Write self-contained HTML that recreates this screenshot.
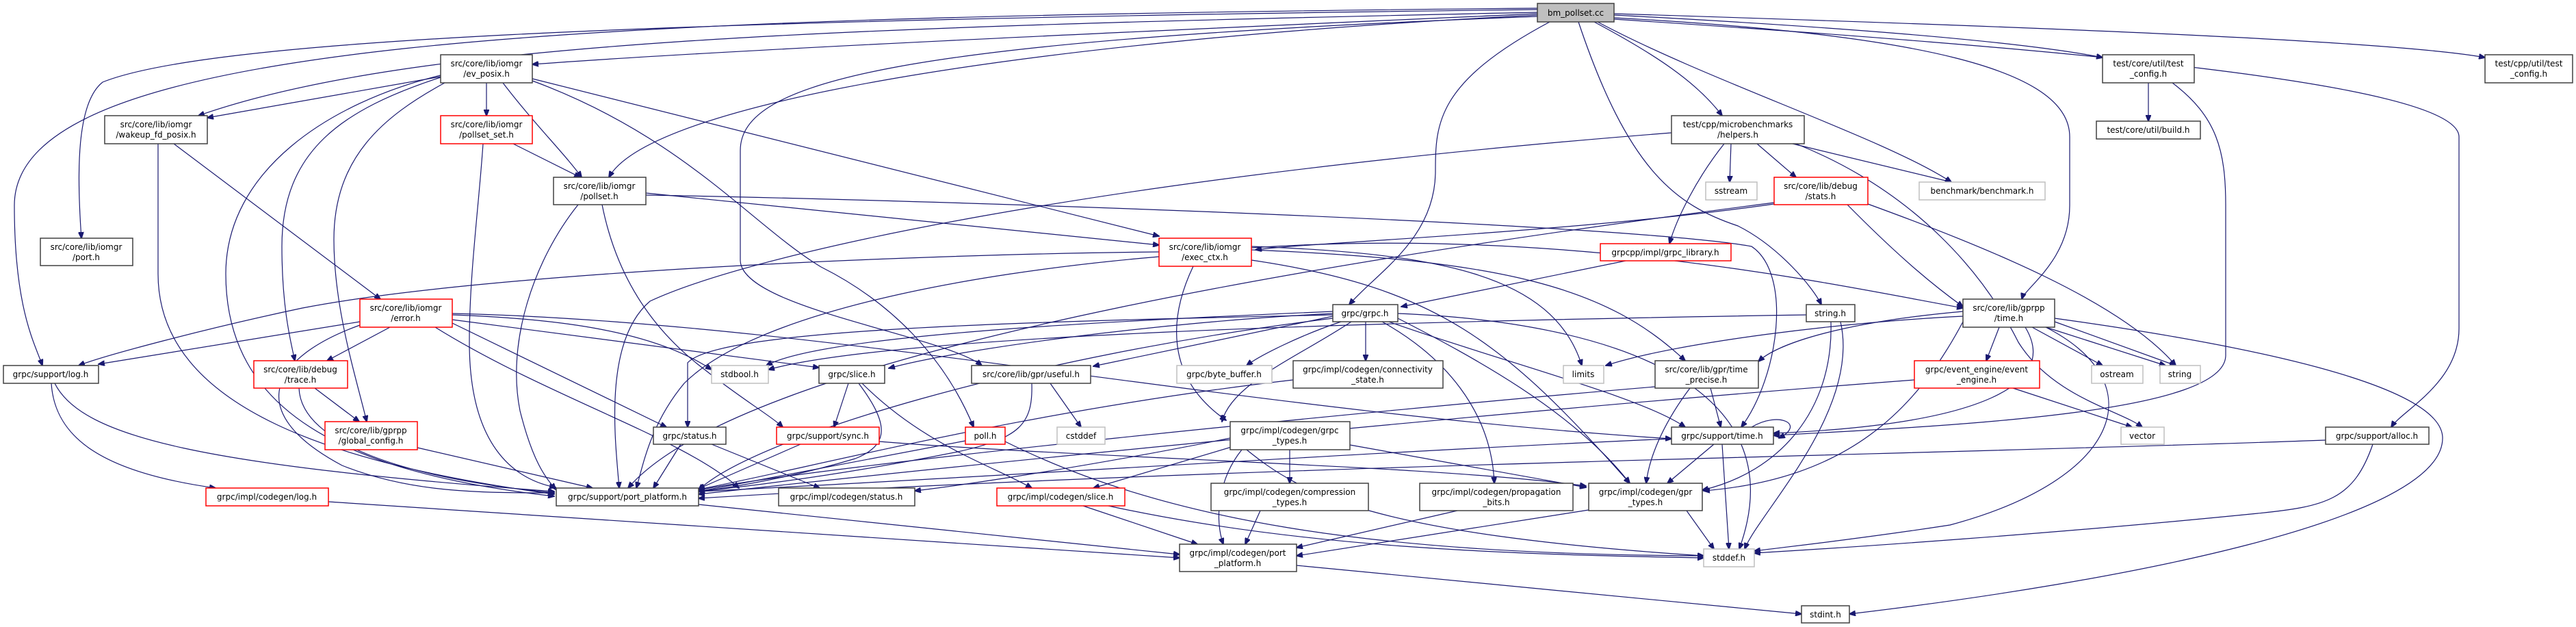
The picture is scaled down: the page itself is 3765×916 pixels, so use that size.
<!DOCTYPE html>
<html><head><meta charset="utf-8"><style>
html,body{margin:0;padding:0;background:#fff;}
svg{display:block;}
text{font-family:"DejaVu Sans","Liberation Sans",sans-serif;font-size:12px;fill:#000;text-anchor:middle;}
.e{fill:none;stroke:#191970;stroke-width:1.2;marker-end:url(#a);}
.n{fill:#fff;stroke:#404040;stroke-width:1.5;}
.r{fill:#fff;stroke:#ff0000;stroke-width:1.5;}
.g{fill:#fff;stroke:#bfbfbf;stroke-width:1.5;}
</style></head><body>
<svg width="3765" height="916" viewBox="0 0 3765 916" xmlns="http://www.w3.org/2000/svg">
<defs><marker id="a" markerWidth="10" markerHeight="8" refX="9" refY="4" orient="auto" markerUnits="userSpaceOnUse"><path d="M0,0 L10,4 L0,8 z" fill="#191970" stroke="#191970"/></marker></defs>
<g>
<!-- bm_pollset edges -->
<path class="e" d="M2247,20 C1800,40 1100,70 778,94"/>
<path class="e" d="M2247,18 C1200,40 600,60 290,169"/>
<path class="e" d="M2247,14 C900,30 300,60 150,120 C112,150 112,250 119,348"/>
<path class="e" d="M2247,12 C800,25 21,60 21,300 C21,450 50,500 62,534"/>
<path class="e" d="M2247,22 C1500,60 950,150 890,259"/>
<path class="e" d="M2247,24 C1300,60 1082,120 1082,220 L1082,380 C1082,450 1380,490 1435,534"/>
<path class="e" d="M2265,32 C2100,120 2098,180 2098,250 C2098,350 2010,400 1972,445"/>
<path class="e" d="M2307,32 C2380,250 2450,300 2540,330 C2600,360 2650,420 2662,445"/>
<path class="e" d="M2330,32 C2420,80 2480,120 2517,169"/>
<path class="e" d="M2335,32 C2500,120 2750,200 2852,266"/>
<path class="e" d="M2359,22 C2700,40 2950,60 3073,84"/>
<path class="e" d="M2359,20 C3000,40 3500,60 3632,84"/>
<path class="e" d="M2359,26 C2800,50 3025,100 3025,200 L3025,300 C3025,380 2960,420 2955,437"/>
<path class="e" d="M2359,28 C3000,70 3594,120 3594,200 L3594,480 C3594,560 3510,600 3495,624"/>
<!-- ev_posix -->
<path class="e" d="M644,112 L303,172"/>
<path class="e" d="M711,121 L711,169"/>
<path class="e" d="M735,121 C780,180 830,230 850,259"/>
<path class="e" d="M778,115 L1694,345"/>
<path class="e" d="M644,113 C500,160 412,220 412,360 C412,450 425,500 431,527"/>
<path class="e" d="M650,121 C560,170 488,230 488,350 C488,450 520,550 536,616"/>
<path class="e" d="M644,110 C480,150 330,250 330,400 C330,600 500,690 810,725"/>
<path class="e" d="M778,118 C1000,200 1100,330 1200,390 C1300,440 1380,520 1423,624"/>
<!-- wakeup -->
<path class="e" d="M231,210 L231,400 C231,600 500,680 810,722"/>
<path class="e" d="M254,210 L556,437"/>
<!-- pollset_set -->
<path class="e" d="M750,210 L848,259"/>
<path class="e" d="M706,210 C700,300 686,400 686,500 C686,650 750,700 812,712"/>
<!-- pollset -->
<path class="e" d="M944,282 L1694,358"/>
<path class="e" d="M845,299 C780,380 740,500 760,600 C780,680 800,700 812,715"/>
<path class="e" d="M880,299 C900,400 950,480 1030,540 C1080,580 1130,610 1144,624"/>
<path class="e" d="M944,285 C1500,295 2400,330 2560,360 C2620,400 2600,550 2545,624"/>
<!-- exec_ctx -->
<path class="e" d="M1694,368 C1300,372 700,400 442,450 C300,480 150,520 115,534"/>
<path class="e" d="M1694,375 C1400,400 1100,460 1000,560 C950,620 940,680 930,713"/>
<path class="e" d="M1744,389 C1710,460 1700,550 1792,614"/>
<path class="e" d="M1829,360 C2100,370 2270,400 2312,534"/>
<path class="e" d="M1829,365 C2200,380 2350,420 2463,527"/>
<path class="e" d="M1829,362 C2300,330 2700,420 2869,450"/>
<path class="e" d="M1829,380 C2100,420 2200,500 2382,706"/>
<!-- grpc.h -->
<path class="e" d="M1948,455 C1600,470 1200,490 1120,534"/>
<path class="e" d="M1948,458 C1700,470 1400,510 1299,538"/>
<path class="e" d="M1948,462 L1598,535"/>
<path class="e" d="M1960,470 C1900,490 1840,520 1822,534"/>
<path class="e" d="M1996,470 L1996,527"/>
<path class="e" d="M1948,460 C1500,470 1050,480 1005,530 L1005,624"/>
<path class="e" d="M1948,465 C1500,520 1100,640 1021,716"/>
<path class="e" d="M1975,470 C1900,520 1800,560 1786,616"/>
<path class="e" d="M2020,470 C2110,520 2180,600 2184,706"/>
<path class="e" d="M2043,465 C2150,520 2300,600 2382,706"/>
<path class="e" d="M2030,470 C2200,530 2400,580 2463,624"/>
<path class="e" d="M2043,458 C2350,470 2630,560 2542,802"/>
<!-- string.h -->
<path class="e" d="M2690,470 C2720,600 2570,750 2550,802"/>
<path class="e" d="M2676,470 C2680,600 2600,690 2488,716"/>
<path class="e" d="M2640,460 C2000,470 1300,490 1123,540"/>
<!-- helpers -->
<path class="e" d="M2530,210 L2528,266"/>
<path class="e" d="M2568,210 L2625,259"/>
<path class="e" d="M2620,210 L2852,266"/>
<path class="e" d="M2520,210 C2480,260 2450,320 2440,356"/>
<path class="e" d="M2443,194 C1600,260 1100,370 950,440 C880,500 900,650 905,713"/>
<path class="e" d="M2625,210 C2800,280 2900,400 2950,500 C3000,580 3100,600 3131,624"/>
<!-- stats -->
<path class="e" d="M2593,298 C2300,340 1900,355 1835,365"/>
<path class="e" d="M2593,296 C2100,360 1100,500 918,713"/>
<path class="e" d="M2700,299 C2780,380 2830,420 2869,448"/>
<path class="e" d="M2730,298 C2900,360 3100,440 3180,534"/>
<!-- grpc_library -->
<path class="e" d="M2376,381 L2048,448"/>
<!-- gprpp/time -->
<path class="e" d="M2922,478 L2903,527"/>
<path class="e" d="M2970,478 L3073,534"/>
<path class="e" d="M2990,478 L3165,534"/>
<path class="e" d="M3003,470 L3180,534"/>
<path class="e" d="M2869,455 C2700,470 2600,500 2570,528"/>
<path class="e" d="M2960,478 C3010,560 2900,620 2592,633"/>
<path class="e" d="M2869,470 C2800,600 2700,700 2490,717"/>
<path class="e" d="M3003,465 C3400,520 3570,580 3570,640 C3570,760 3100,850 2703,897"/>
<path class="e" d="M2869,462 C2700,470 2450,500 2347,534"/>
<path class="e" d="M2990,478 C3150,560 3100,700 2850,767 C2700,790 2600,800 2564,805"/>
<!-- test_config core -->
<path class="e" d="M3140,121 L3140,177"/>
<path class="e" d="M3175,121 C3240,170 3253,220 3253,300 L3253,520 C3250,600 2900,620 2592,636"/>
<!-- event_engine -->
<path class="e" d="M2942,567 L3116,624"/>
<path class="e" d="M2798,555 C2200,600 1400,680 1021,722"/>
<!-- alloc -->
<path class="e" d="M3399,643 C2800,665 1800,680 1021,728"/>
<path class="e" d="M3468,649 C3440,730 3400,740 3300,750 C3000,780 2700,800 2564,808"/>
<!-- support/time -->
<path class="e" d="M2560,624 C2600,600 2640,620 2600,640" />
<path class="e" d="M2505,649 L2437,706"/>
<path class="e" d="M2517,649 L2527,802"/>
<path class="e" d="M2443,641 C2000,660 1400,700 1021,718"/>
<!-- time_precise -->
<path class="e" d="M2500,567 L2515,624"/>
<path class="e" d="M2470,567 C2430,620 2410,670 2406,706"/>
<path class="e" d="M2419,565 C2000,600 1200,680 1021,716"/>
<!-- gpr_types -->
<path class="e" d="M2465,746 L2505,802"/>
<path class="e" d="M2322,745 L1895,812"/>
<path class="e" d="M2130,746 L1895,800"/>
<path class="e" d="M1890,555 C1500,600 1200,680 1021,715"/>
<!-- useful -->
<path class="e" d="M1535,560 L1580,624"/>
<path class="e" d="M1508,560 C1510,620 1490,640 1400,660 C1200,700 1050,715 1021,718"/>
<!-- slice -->
<path class="e" d="M1240,560 L1219,624"/>
<path class="e" d="M1260,560 C1350,650 1450,680 1508,713"/>
<path class="e" d="M1255,560 C1300,620 1300,650 1250,670 C1150,700 1050,715 1021,718"/>
<!-- sync -->
<path class="e" d="M1170,649 L1021,714"/>
<path class="e" d="M1285,645 C1600,670 2100,680 2318,710"/>
<!-- poll -->
<path class="e" d="M1411,644 L1021,718"/>
<path class="e" d="M1469,645 C1700,760 2000,810 2490,812"/>
<!-- status -->
<path class="e" d="M995,649 L955,713"/>
<path class="e" d="M1040,649 L1198,713"/>
<!-- log -->
<path class="e" d="M80,560 C120,640 300,680 810,718"/>
<path class="e" d="M75,560 C80,640 150,690 315,713"/>
<!-- trace, global -->
<path class="e" d="M460,567 L525,616"/>
<path class="e" d="M437,567 C440,650 600,700 810,720"/>
<path class="e" d="M610,654 L866,713"/>
<path class="e" d="M480,733 L1724,815"/>
<path class="e" d="M1021,737 L1724,810"/>
<!-- error -->
<path class="e" d="M526,470 L144,532"/>
<path class="e" d="M570,478 L478,527"/>
<path class="e" d="M526,475 C400,520 350,600 500,680 C600,720 700,720 810,720"/>
<path class="e" d="M661,460 C800,465 950,480 1040,540"/>
<path class="e" d="M661,467 L1197,537"/>
<path class="e" d="M661,472 L974,624"/>
<path class="e" d="M661,458 C1200,470 1800,600 2443,641"/>
<path class="e" d="M636,478 C800,580 1000,640 1080,713"/>
<!-- codegen grpc_types -->
<path class="e" d="M1885,657 L1885,706"/>
<path class="e" d="M1815,657 C1780,700 1775,760 1788,795"/>
<path class="e" d="M1810,650 L1598,713"/>
<path class="e" d="M1798,640 C1600,680 1400,710 1337,717"/>
<path class="e" d="M1973,650 L2318,712"/>
<path class="e" d="M1822,657 C1900,720 2000,780 2490,812"/>
<path class="e" d="M1842,746 L1820,795"/>
<path class="e" d="M1583,739 L1750,795"/>
<path class="e" d="M1620,739 C1900,800 2200,810 2490,815"/>
<path class="e" d="M1895,826 L2633,897"/>
</g>
<!-- nodes -->
<g>
<rect class="n" x="2247" y="5" width="112" height="27" style="fill:#bfbfbf"/><text x="2303" y="23">bm_pollset.cc</text>
<rect class="n" x="644" y="80" width="134" height="41"/><text x="711" y="97">src/core/lib/iomgr</text><text x="711" y="112">/ev_posix.h</text>
<rect class="n" x="153" y="169" width="150" height="41"/><text x="228" y="186">src/core/lib/iomgr</text><text x="228" y="201">/wakeup_fd_posix.h</text>
<rect class="r" x="644" y="169" width="134" height="41"/><text x="711" y="186">src/core/lib/iomgr</text><text x="711" y="201">/pollset_set.h</text>
<rect class="n" x="809" y="259" width="135" height="40"/><text x="876" y="276">src/core/lib/iomgr</text><text x="876" y="291">/pollset.h</text>
<rect class="n" x="59" y="348" width="135" height="40"/><text x="126" y="365">src/core/lib/iomgr</text><text x="126" y="380">/port.h</text>
<rect class="r" x="526" y="437" width="135" height="41"/><text x="593" y="454">src/core/lib/iomgr</text><text x="593" y="469">/error.h</text>
<rect class="n" x="5" y="534" width="139" height="26"/><text x="74" y="551">grpc/support/log.h</text>
<rect class="r" x="371" y="527" width="137" height="40"/><text x="439" y="544">src/core/lib/debug</text><text x="439" y="559">/trace.h</text>
<rect class="r" x="475" y="616" width="135" height="41"/><text x="542" y="633">src/core/lib/gprpp</text><text x="542" y="648">/global_config.h</text>
<rect class="r" x="301" y="713" width="179" height="26"/><text x="390" y="730">grpc/impl/codegen/log.h</text>
<rect class="n" x="813" y="713" width="208" height="26"/><text x="917" y="730">grpc/support/port_platform.h</text>
<rect class="r" x="1694" y="348" width="135" height="41"/><text x="1761" y="365">src/core/lib/iomgr</text><text x="1761" y="380">/exec_ctx.h</text>
<rect class="g" x="1040" y="534" width="83" height="26"/><text x="1081" y="551">stdbool.h</text>
<rect class="n" x="1197" y="534" width="96" height="26"/><text x="1245" y="551">grpc/slice.h</text>
<rect class="n" x="1420" y="534" width="174" height="26"/><text x="1507" y="551">src/core/lib/gpr/useful.h</text>
<rect class="g" x="1720" y="534" width="139" height="26"/><text x="1789" y="551">grpc/byte_buffer.h</text>
<rect class="n" x="955" y="624" width="106" height="25"/><text x="1008" y="641">grpc/status.h</text>
<rect class="r" x="1135" y="624" width="150" height="25"/><text x="1210" y="641">grpc/support/sync.h</text>
<rect class="r" x="1411" y="624" width="58" height="25"/><text x="1440" y="641">poll.h</text>
<rect class="g" x="1545" y="624" width="70" height="25"/><text x="1580" y="641">cstddef</text>
<rect class="n" x="1798" y="616" width="175" height="41"/><text x="1885" y="633">grpc/impl/codegen/grpc</text><text x="1885" y="648">_types.h</text>
<rect class="n" x="1138" y="713" width="199" height="26"/><text x="1237" y="730">grpc/impl/codegen/status.h</text>
<rect class="r" x="1457" y="713" width="187" height="26"/><text x="1550" y="730">grpc/impl/codegen/slice.h</text>
<rect class="n" x="1770" y="706" width="230" height="40"/><text x="1885" y="723">grpc/impl/codegen/compression</text><text x="1885" y="738">_types.h</text>
<rect class="n" x="1724" y="795" width="171" height="40"/><text x="1809" y="812">grpc/impl/codegen/port</text><text x="1809" y="827">_platform.h</text>
<rect class="n" x="2443" y="169" width="194" height="41"/><text x="2540" y="186">test/cpp/microbenchmarks</text><text x="2540" y="201">/helpers.h</text>
<rect class="g" x="2493" y="266" width="75" height="26"/><text x="2530" y="283">sstream</text>
<rect class="r" x="2593" y="259" width="137" height="40"/><text x="2661" y="276">src/core/lib/debug</text><text x="2661" y="291">/stats.h</text>
<rect class="g" x="2805" y="266" width="184" height="26"/><text x="2897" y="283">benchmark/benchmark.h</text>
<rect class="r" x="2339" y="356" width="191" height="25"/><text x="2434" y="373">grpcpp/impl/grpc_library.h</text>
<rect class="n" x="1948" y="445" width="95" height="25"/><text x="1995" y="462">grpc/grpc.h</text>
<rect class="n" x="2640" y="445" width="71" height="25"/><text x="2675" y="462">string.h</text>
<rect class="n" x="1890" y="527" width="219" height="40"/><text x="1999" y="544">grpc/impl/codegen/connectivity</text><text x="1999" y="559">_state.h</text>
<rect class="g" x="2285" y="534" width="59" height="26"/><text x="2314" y="551">limits</text>
<rect class="n" x="2419" y="527" width="151" height="40"/><text x="2494" y="544">src/core/lib/gpr/time</text><text x="2494" y="559">_precise.h</text>
<rect class="r" x="2798" y="527" width="183" height="40"/><text x="2889" y="544">grpc/event_engine/event</text><text x="2889" y="559">_engine.h</text>
<rect class="n" x="2443" y="624" width="149" height="25"/><text x="2517" y="641">grpc/support/time.h</text>
<rect class="n" x="2075" y="706" width="224" height="40"/><text x="2187" y="723">grpc/impl/codegen/propagation</text><text x="2187" y="738">_bits.h</text>
<rect class="n" x="2322" y="706" width="166" height="40"/><text x="2405" y="723">grpc/impl/codegen/gpr</text><text x="2405" y="738">_types.h</text>
<rect class="g" x="2490" y="802" width="74" height="26"/><text x="2527" y="819">stddef.h</text>
<rect class="n" x="2633" y="885" width="70" height="25"/><text x="2668" y="902">stdint.h</text>
<rect class="n" x="3073" y="80" width="134" height="41"/><text x="3140" y="97">test/core/util/test</text><text x="3140" y="112">_config.h</text>
<rect class="n" x="3632" y="80" width="128" height="41"/><text x="3696" y="97">test/cpp/util/test</text><text x="3696" y="112">_config.h</text>
<rect class="n" x="3064" y="177" width="152" height="26"/><text x="3140" y="194">test/core/util/build.h</text>
<rect class="n" x="2869" y="437" width="134" height="41"/><text x="2936" y="454">src/core/lib/gprpp</text><text x="2936" y="469">/time.h</text>
<rect class="g" x="3057" y="534" width="75" height="26"/><text x="3094" y="551">ostream</text>
<rect class="g" x="3157" y="534" width="59" height="26"/><text x="3186" y="551">string</text>
<rect class="g" x="3100" y="624" width="63" height="25"/><text x="3131" y="641">vector</text>
<rect class="n" x="3399" y="624" width="151" height="25"/><text x="3474" y="641">grpc/support/alloc.h</text>
</g>
</svg>
</body></html>
